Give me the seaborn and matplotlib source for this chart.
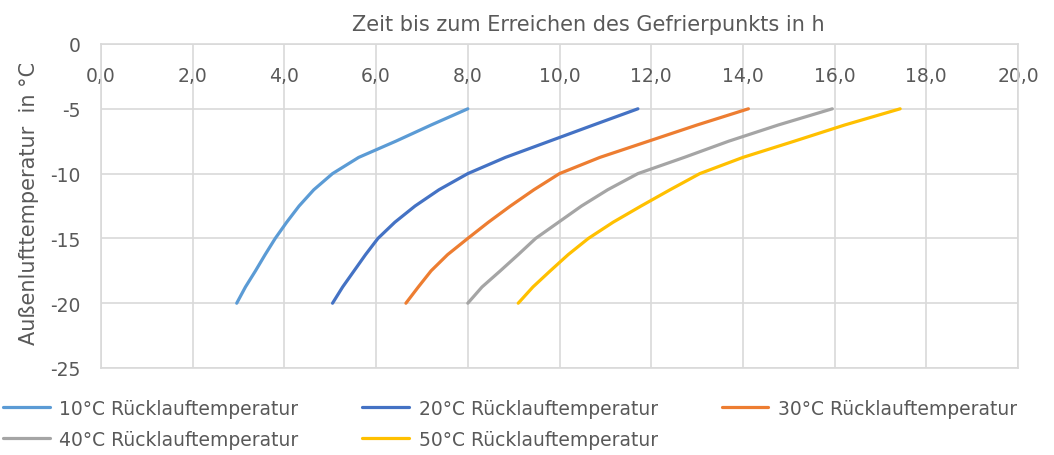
import matplotlib
matplotlib.use("Agg")
import matplotlib.pyplot as plt
import seaborn as sns
import pandas as pd

# Außenlufttemperatur (y) und Zeit bis zum Gefrierpunkt in h (x)
temperatur = [-20, -18.75, -17.5, -16.25, -15, -13.75, -12.5, -11.25, -10, -8.75, -7.5, -6.25, -5]
zeit_10 = [2.96, 3.15, 3.37, 3.58, 3.80, 4.05, 4.32, 4.64, 5.05, 5.62, 6.43, 7.20, 8.00]
zeit_20 = [5.05, 5.27, 5.52, 5.77, 6.04, 6.41, 6.85, 7.37, 8.00, 8.82, 9.78, 10.74, 11.71]
zeit_30 = [6.65, 6.92, 7.20, 7.56, 8.00, 8.45, 8.93, 9.44, 10.00, 10.88, 11.94, 13.00, 14.12]
zeit_40 = [8.00, 8.31, 8.71, 9.10, 9.48, 9.98, 10.48, 11.05, 11.71, 12.72, 13.69, 14.77, 15.95]
zeit_50 = [9.10, 9.42, 9.80, 10.19, 10.63, 11.17, 11.78, 12.41, 13.06, 14.00, 15.12, 16.22, 17.43]

serien = ["10°C Rücklauftemperatur", "20°C Rücklauftemperatur", "30°C Rücklauftemperatur",
          "40°C Rücklauftemperatur", "50°C Rücklauftemperatur"]
farben = ["#5B9BD5", "#4472C4", "#ED7D31", "#A5A5A5", "#FFC000"]

x_ticks = [0, 2, 4, 6, 8, 10, 12, 14, 16, 18, 20]
y_ticks = [0, -5, -10, -15, -20, -25]

zeilen = []
for name, werte in zip(serien, [zeit_10, zeit_20, zeit_30, zeit_40, zeit_50]):
    for t, z in zip(temperatur, werte):
        zeilen.append({"Serie": name, "Zeit": z, "Temperatur": t})
df = pd.DataFrame(zeilen)

sns.set_theme(style="white")
plt.rcParams['font.family'] = ['DejaVu Sans']
textfarbe = "#595959"
gitter = "#D9D9D9"
fs = 13.5
fs_titel = 15

fig = plt.figure(figsize=(10.54, 4.56), dpi=100)
ax = fig.add_axes([101 / 1054, 1 - 369 / 456, 917 / 1054, 324 / 456])

sns.lineplot(data=df, x="Zeit", y="Temperatur", hue="Serie", palette=dict(zip(serien, farben)),
             estimator=None, sort=False, linewidth=2.3, ax=ax)

ax.set_xlim(0, 20)
ax.set_ylim(-25, 0)
ax.set_xticks(x_ticks)
ax.set_xticklabels([f"{v:.1f}".replace(".", ",") for v in x_ticks])
ax.set_yticks(y_ticks)
ax.set_yticklabels([str(v) for v in y_ticks])

ax.grid(True, color=gitter, linewidth=1.2)
for s in ax.spines.values():
    s.set_color(gitter)
    s.set_linewidth(1.2)

ax.tick_params(axis='x', length=0, bottom=False, top=False, labelbottom=False, labeltop=True,
               pad=-29.5, labelsize=fs, colors=textfarbe)
ax.tick_params(axis='y', length=0, left=False, pad=15, labelsize=fs, colors=textfarbe)

ax.set_xlabel("")
ax.set_ylabel("Außenlufttemperatur  in °C", fontsize=fs_titel, color=textfarbe)
ax.yaxis.set_label_coords(-0.068, 0.51)
fig.text(588 / 1054, 1 - 25 / 456, "Zeit bis zum Erreichen des Gefrierpunkts in h",
         ha="center", va="center", fontsize=fs_titel, color=textfarbe)

# Legende zeilenweise wie in Excel: Reihenfolge für spaltenweise Befüllung umstellen
handles, labels = ax.get_legend_handles_labels()
reihenfolge = [0, 3, 1, 4, 2]
ax.legend([handles[i] for i in reihenfolge], [labels[i] for i in reihenfolge],
          ncol=3, loc="upper left", bbox_to_anchor=(0.003, 1 - 400 / 456),
          bbox_transform=fig.transFigure, frameon=False, fontsize=fs,
          handlelength=2.5, handletextpad=0.5, columnspacing=3.4,
          labelcolor=textfarbe, borderaxespad=0, borderpad=0, labelspacing=0.62)

fig.savefig("out.png", dpi=100)
